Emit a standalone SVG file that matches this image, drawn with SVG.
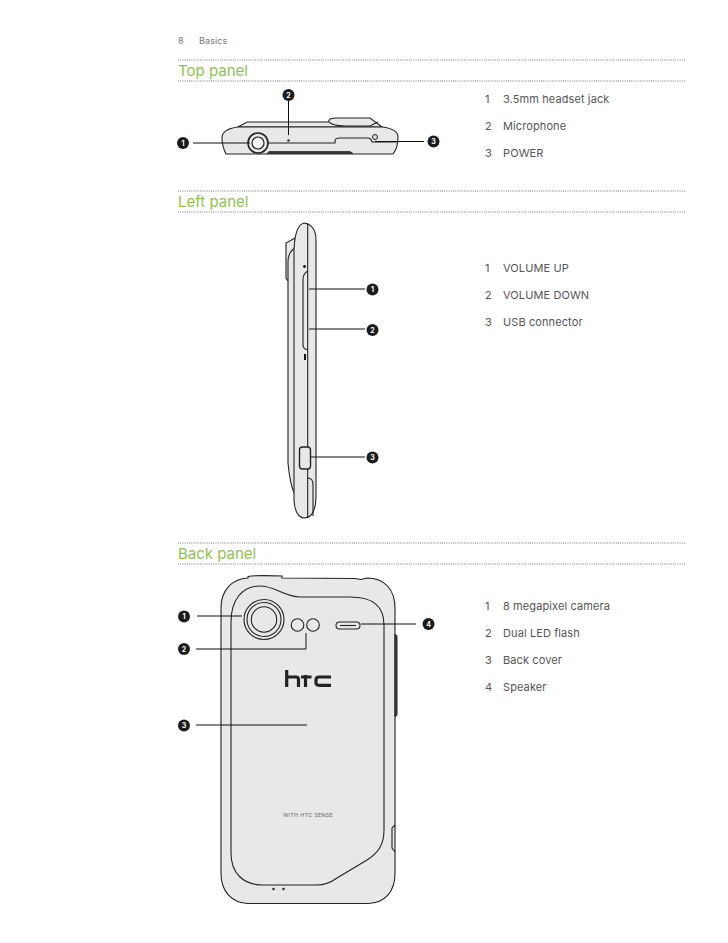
<svg xmlns="http://www.w3.org/2000/svg" width="728" height="943" viewBox="0 0 728 943">
<defs><style>
text{font-family:"Inter","Liberation Sans",sans-serif}
.h{font-size:15px;fill:#8cc34f}
.t{font-size:11px;fill:#555;letter-spacing:.1px}
.d{stroke:#777;stroke-width:1;stroke-dasharray:1 1.2;fill:none}
.b{fill:#e8e8e8;stroke:#222;stroke-width:1.1}
.o{fill:none;stroke:#222;stroke-width:1.1}
.c{fill:none;stroke:#111;stroke-width:1}
.n{fill:#1c1c1c}
.nt{font-size:7px;font-weight:700;fill:#fff;text-anchor:middle}
</style></defs>
<rect width="728" height="943" fill="#fff"/>
<g id="header"><text class="t" x="178" y="44" style="font-size:9px;fill:#777">8</text><text class="t" x="199" y="44" style="font-size:9px;fill:#777">Basics</text></g>
<g id="rules">
<path class="d" d="M178 60H685M178 81H685M178 191H685M178 212H685M178 543H685M178 564H685"/>
</g>
<g id="headings">
<text class="h" x="178" y="76">Top panel</text>
<text class="h" x="178" y="207">Left panel</text>
<text class="h" x="178" y="559">Back panel</text>
</g>
<g id="top-device">
<path class="b" d="M238 127L247 122H328L330 119L335 118H370L382 127Z"/>
<path class="b" d="M238 127H382Q398 129 398 137Q398 148 393 154H226Q222 146 222 138Q222 129 238 127Z"/>
<path class="o" d="M329 122Q333 126 345 126H370L378 122"/>
<path class="o" d="M265 143H335V141Q335 138 340 138H368Q371 138 372 142H398"/>
<path d="M267 153.500L269 151.500H350L353 153.500Z" fill="#333" stroke="#222" stroke-width=".7"/>
<circle cx="258" cy="143" r="10" fill="#e8e8e8" stroke="#222" stroke-width="1.6"/><circle cx="258" cy="143" r="6" fill="#f3f3f3" stroke="#222" stroke-width="1.2"/>
<circle cx="288.500" cy="140.500" r="1.300" fill="#333"/>
<circle cx="375" cy="137" r="2.500" fill="#ddd" stroke="#222"/>
</g>
<g id="left-device">
<path class="b" d="M295 238L286 243V278L288 281V463Q290 485 295 495V250Z"/>
<path class="o" d="M295 248Q288 252 288 262V281"/>
<path class="b" d="M294 250Q295 225 304 223Q316 225 316 240V495Q316 518 304 518Q295 517 294 500Z"/>
<path class="o" d="M307.700 223V518"/>
<path class="o" d="M307.700 271Q303 274 303 279V345Q303 349 307.700 350"/>
<path d="M303 266.500H306M304.500 265V268" stroke="#111" stroke-width="1.400" fill="none"/>
<path d="M305 354V360" stroke="#111" stroke-width="2" fill="none"/>
<rect x="299.500" y="447" width="11" height="22" rx="3" fill="#e8e8e8" stroke="#222" stroke-width="1.400"/>
<path class="o" d="M308 478Q313 478 313 485V516"/>
</g>
<g id="back-device">
<path class="b" d="M248 578V576.500Q255 575 282 576V578L355 578.500L361 579.500L367 578C385 578 395 590 395 608V873C395 892 385 903 368 903.500H248C232 903 221 892 221 873V608C221 590 232 579 248 578Z"/>
<path d="M395 634L397 636V715L395 717Z" fill="#444" stroke="#222"/>
<path class="o" d="M395 825L392 828V848L395 852"/>
<path class="o" d="M231 622C231 600 242 586 260 586C275 586 285 597 300 597H350C372 597 384 605 384 625V830C384 845 378 853 367 860L337 878C330 883 325 885 317 885H263C243 885 231 873 231 853Z"/>
<circle class="o" cx="264" cy="619.500" r="20"/><circle class="o" cx="264" cy="619.500" r="17"/><circle class="o" cx="264" cy="619.500" r="12.700"/>
<circle class="o" cx="297.500" cy="625" r="6.300"/><circle class="o" cx="313" cy="625" r="6.300"/>
<rect class="o" x="336" y="622" width="24" height="7" rx="3.500"/><path class="o" d="M340 625.500H356"/>
<path id="htc-logo" fill="none" stroke="#222" stroke-width="3.200" d="M286.700 670V687M286.700 677H296Q298.500 677 298.500 679.500V687M301 677H311.500M305.500 675V687M331 677H319Q316 677 316 680V682.500Q316 685.300 319 685.300H331"/>
<text x="308" y="816.500" text-anchor="middle" style="font-size:5.400px;letter-spacing:.3px" fill="#666">WITH HTC SENSE</text>
<circle cx="273.500" cy="889" r="1.300" fill="#333"/><circle cx="283.500" cy="889" r="1.300" fill="#333"/>
</g>
<g id="connectors">
<path class="c" d="M193 143H250" stroke-width="1.300"/>
<path class="c" d="M288.500 100V135M375 141.500H424"/>
<path class="c" d="M309 289H365M309 329H365M311 457H365"/>
<path class="c" d="M197 616H242M196 649H306V633M196 725H307M361 624H416"/>
</g>
<g id="callouts">
<g id="t1"><circle class="n" cx="183" cy="143" r="6"/><text class="nt" x="183" y="145.500">1</text></g>
<g id="t2"><circle class="n" cx="288.500" cy="95" r="6"/><text class="nt" x="288.500" y="97.500">2</text></g>
<g id="t3"><circle class="n" cx="433.500" cy="141.500" r="6"/><text class="nt" x="433.500" y="144">3</text></g>
<g id="l1"><circle class="n" cx="372.500" cy="289.500" r="6"/><text class="nt" x="372.500" y="292">1</text></g>
<g id="l2"><circle class="n" cx="372.500" cy="330" r="6"/><text class="nt" x="372.500" y="332.500">2</text></g>
<g id="l3"><circle class="n" cx="372.500" cy="457.500" r="6"/><text class="nt" x="372.500" y="460">3</text></g>
<g id="b1"><circle class="n" cx="184" cy="616.500" r="6"/><text class="nt" x="184" y="619">1</text></g>
<g id="b2"><circle class="n" cx="184" cy="649" r="6"/><text class="nt" x="184" y="651.500">2</text></g>
<g id="b3"><circle class="n" cx="184" cy="725.500" r="6"/><text class="nt" x="184" y="728">3</text></g>
<g id="b4"><circle class="n" cx="428.500" cy="624" r="6"/><text class="nt" x="428.500" y="626.500">4</text></g>
</g>
<g id="legends">
<text class="t" x="485" y="103">1</text><text class="t" x="503" y="103">3.5mm headset jack</text>
<text class="t" x="485" y="130">2</text><text class="t" x="503" y="130">Microphone</text>
<text class="t" x="485" y="157">3</text><text class="t" x="503" y="157">POWER</text>
<text class="t" x="485" y="272">1</text><text class="t" x="503" y="272">VOLUME UP</text>
<text class="t" x="485" y="299">2</text><text class="t" x="503" y="299">VOLUME DOWN</text>
<text class="t" x="485" y="326">3</text><text class="t" x="503" y="326">USB connector</text>
<text class="t" x="485" y="610">1</text><text class="t" x="503" y="610">8 megapixel camera</text>
<text class="t" x="485" y="637">2</text><text class="t" x="503" y="637">Dual LED flash</text>
<text class="t" x="485" y="664">3</text><text class="t" x="503" y="664">Back cover</text>
<text class="t" x="485" y="691">4</text><text class="t" x="503" y="691">Speaker</text>
</g>
</svg>
